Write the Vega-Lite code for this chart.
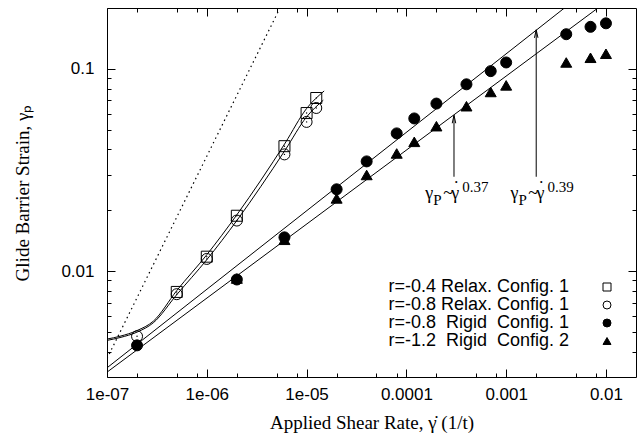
{
  "$schema": "https://vega.github.io/schema/vega-lite/v6.json",
  "width": 529,
  "height": 369,
  "autosize": {"type": "none"},
  "padding": {"left": 107, "top": 8, "right": 5, "bottom": 62},
  "background": "white",
  "config": {
    "view": {"stroke": "black", "strokeWidth": 1},
    "axis": {"domain": false, "grid": false, "tickColor": "black", "tickWidth": 1, "labelColor": "black", "titleColor": "black", "labelFont": "Liberation Sans", "labelFontSize": 17, "titleFont": "Liberation Serif", "titleFontSize": 19, "titleFontWeight": "normal", "labelFlush": false, "labelOverlap": false},
    "legend": {"title": null, "orient": "none", "legendX": 491, "legendY": 270, "labelAlign": "right", "labelOffset": -47, "labelFont": "Liberation Sans", "labelFontSize": 18, "labelColor": "black", "symbolSize": 64, "symbolStrokeWidth": 1, "rowPadding": 0, "labelLimit": 400}
  },
  "datasets": {
    "pts": [
      {"series": "r=-0.4 Relax. Config. 1", "x": 5e-7, "y": 0.0079},
      {"series": "r=-0.4 Relax. Config. 1", "x": 1e-6, "y": 0.0118},
      {"series": "r=-0.4 Relax. Config. 1", "x": 2e-6, "y": 0.0188},
      {"series": "r=-0.4 Relax. Config. 1", "x": 6e-6, "y": 0.0415},
      {"series": "r=-0.4 Relax. Config. 1", "x": 1e-5, "y": 0.0605},
      {"series": "r=-0.4 Relax. Config. 1", "x": 1.25e-5, "y": 0.0718},
      {"series": "r=-0.8 Relax. Config. 1", "x": 2e-7, "y": 0.00477},
      {"series": "r=-0.8 Relax. Config. 1", "x": 5e-7, "y": 0.0077},
      {"series": "r=-0.8 Relax. Config. 1", "x": 1e-6, "y": 0.0115},
      {"series": "r=-0.8 Relax. Config. 1", "x": 2e-6, "y": 0.0178},
      {"series": "r=-0.8 Relax. Config. 1", "x": 6e-6, "y": 0.0378},
      {"series": "r=-0.8 Relax. Config. 1", "x": 1e-5, "y": 0.0547},
      {"series": "r=-0.8 Relax. Config. 1", "x": 1.25e-5, "y": 0.0641},
      {"series": "r=-0.8 \u00a0Rigid \u00a0Config. 1", "x": 2e-7, "y": 0.0043},
      {"series": "r=-0.8 \u00a0Rigid \u00a0Config. 1", "x": 2e-6, "y": 0.0091},
      {"series": "r=-0.8 \u00a0Rigid \u00a0Config. 1", "x": 6e-6, "y": 0.0147},
      {"series": "r=-0.8 \u00a0Rigid \u00a0Config. 1", "x": 2e-5, "y": 0.0254},
      {"series": "r=-0.8 \u00a0Rigid \u00a0Config. 1", "x": 4e-5, "y": 0.0349},
      {"series": "r=-0.8 \u00a0Rigid \u00a0Config. 1", "x": 8e-5, "y": 0.048},
      {"series": "r=-0.8 \u00a0Rigid \u00a0Config. 1", "x": 1.2e-4, "y": 0.0569},
      {"series": "r=-0.8 \u00a0Rigid \u00a0Config. 1", "x": 2e-4, "y": 0.0674},
      {"series": "r=-0.8 \u00a0Rigid \u00a0Config. 1", "x": 4e-4, "y": 0.0839},
      {"series": "r=-0.8 \u00a0Rigid \u00a0Config. 1", "x": 7e-4, "y": 0.0975},
      {"series": "r=-0.8 \u00a0Rigid \u00a0Config. 1", "x": 1e-3, "y": 0.1076},
      {"series": "r=-0.8 \u00a0Rigid \u00a0Config. 1", "x": 4e-3, "y": 0.1484},
      {"series": "r=-0.8 \u00a0Rigid \u00a0Config. 1", "x": 7e-3, "y": 0.1614},
      {"series": "r=-0.8 \u00a0Rigid \u00a0Config. 1", "x": 1e-2, "y": 0.168},
      {"series": "r=-1.2 \u00a0Rigid \u00a0Config. 2", "x": 2e-6, "y": 0.0092},
      {"series": "r=-1.2 \u00a0Rigid \u00a0Config. 2", "x": 6e-6, "y": 0.0143},
      {"series": "r=-1.2 \u00a0Rigid \u00a0Config. 2", "x": 2e-5, "y": 0.0229},
      {"series": "r=-1.2 \u00a0Rigid \u00a0Config. 2", "x": 4e-5, "y": 0.0299},
      {"series": "r=-1.2 \u00a0Rigid \u00a0Config. 2", "x": 8e-5, "y": 0.0382},
      {"series": "r=-1.2 \u00a0Rigid \u00a0Config. 2", "x": 1.2e-4, "y": 0.0436},
      {"series": "r=-1.2 \u00a0Rigid \u00a0Config. 2", "x": 2e-4, "y": 0.0521},
      {"series": "r=-1.2 \u00a0Rigid \u00a0Config. 2", "x": 4e-4, "y": 0.0654},
      {"series": "r=-1.2 \u00a0Rigid \u00a0Config. 2", "x": 7e-4, "y": 0.0769},
      {"series": "r=-1.2 \u00a0Rigid \u00a0Config. 2", "x": 1e-3, "y": 0.0829},
      {"series": "r=-1.2 \u00a0Rigid \u00a0Config. 2", "x": 4e-3, "y": 0.1076},
      {"series": "r=-1.2 \u00a0Rigid \u00a0Config. 2", "x": 7e-3, "y": 0.1135},
      {"series": "r=-1.2 \u00a0Rigid \u00a0Config. 2", "x": 1e-2, "y": 0.1188}
    ],
    "curves": [
      {"curve": "sq", "x": 1e-7, "y": 0.00462},
      {"curve": "sq", "x": 1.35e-7, "y": 0.00477},
      {"curve": "sq", "x": 2e-7, "y": 0.00509},
      {"curve": "sq", "x": 2.91e-7, "y": 0.00566},
      {"curve": "sq", "x": 5e-7, "y": 0.00802},
      {"curve": "sq", "x": 1e-6, "y": 0.01206},
      {"curve": "sq", "x": 2e-6, "y": 0.019},
      {"curve": "sq", "x": 6.1e-6, "y": 0.043},
      {"curve": "sq", "x": 1e-5, "y": 0.0637},
      {"curve": "sq", "x": 1.5e-5, "y": 0.0778},
      {"curve": "ci", "x": 1e-7, "y": 0.00455},
      {"curve": "ci", "x": 1.35e-7, "y": 0.0047},
      {"curve": "ci", "x": 2e-7, "y": 0.005},
      {"curve": "ci", "x": 2.91e-7, "y": 0.00556},
      {"curve": "ci", "x": 5e-7, "y": 0.00766},
      {"curve": "ci", "x": 1e-6, "y": 0.0114},
      {"curve": "ci", "x": 2e-6, "y": 0.0178},
      {"curve": "ci", "x": 6.1e-6, "y": 0.0397},
      {"curve": "ci", "x": 1e-5, "y": 0.0579},
      {"curve": "ci", "x": 1.47e-5, "y": 0.07}
    ],
    "fits": [
      {"line": "p39", "x": 1e-7, "y": 0.00333},
      {"line": "p39", "x": 4.5e-3, "y": 0.2128},
      {"line": "p37", "x": 1e-7, "y": 0.00317},
      {"line": "p37", "x": 1e-2, "y": 0.214}
    ],
    "guide": [
      {"x": 1e-7, "y": 0.0037},
      {"x": 6e-6, "y": 0.222}
    ],
    "arrows": [
      {"x": 3e-4, "y": 0.0293, "y2": 0.059},
      {"x": 2e-3, "y": 0.0293, "y2": 0.156}
    ],
    "annMain": [
      {"x": 1.549e-4, "y": 0.02275, "t": "γ"},
      {"x": 2.344e-4, "y": 0.02275, "t": "~"},
      {"x": 2.82e-4, "y": 0.02275, "t": "γ"},
      {"x": 1.103e-3, "y": 0.02275, "t": "γ"},
      {"x": 1.669e-3, "y": 0.02275, "t": "~"},
      {"x": 2.008e-3, "y": 0.02275, "t": "γ"}
    ],
    "annSmall": [
      {"x": 1.862e-4, "y": 0.02128, "t": "P"},
      {"x": 3.64e-4, "y": 0.0247, "t": "0.37"},
      {"x": 1.326e-3, "y": 0.02128, "t": "P"},
      {"x": 2.59e-3, "y": 0.0247, "t": "0.39"}
    ],
    "annDot": [
      {"x": 3.16e-4, "y": 0.0241, "t": "˙"},
      {"x": 2.25e-3, "y": 0.0241, "t": "˙"}
    ]
  },
  "resolve": {"axis": {"x": "independent", "y": "independent"}},
  "layer": [
    {
      "data": {"name": "guide"},
      "mark": {"type": "line", "stroke": "black", "strokeWidth": 1.2, "strokeDash": [1.5, 3.5], "clip": true},
      "encoding": {
        "x": {"field": "x", "type": "quantitative", "scale": {"type": "log", "domain": [1e-7, 0.02], "nice": false},
          "axis": {"orient": "top", "values": [2e-7, 5e-7, 8e-7, 2e-6, 5e-6, 8e-6, 2e-5, 5e-5, 8e-5, 2e-4, 5e-4, 8e-4, 2e-3, 5e-3, 8e-3], "labels": false, "tickSize": -4, "title": null}},
        "y": {"field": "y", "type": "quantitative", "scale": {"type": "log", "domain": [0.003, 0.2], "nice": false},
          "axis": {"orient": "right", "values": [0.004, 0.005, 0.006, 0.007, 0.008, 0.009, 0.02, 0.03, 0.04, 0.05, 0.06, 0.07, 0.08, 0.09], "labels": false, "tickSize": -4, "title": null}}
      }
    },
    {
      "data": {"name": "curves"},
      "mark": {"type": "line", "stroke": "black", "strokeWidth": 1, "interpolate": "monotone", "clip": true},
      "encoding": {
        "x": {"field": "x", "type": "quantitative", "scale": {"type": "log", "domain": [1e-7, 0.02], "nice": false},
          "axis": {"orient": "bottom", "values": [2e-7, 5e-7, 8e-7, 2e-6, 5e-6, 8e-6, 2e-5, 5e-5, 8e-5, 2e-4, 5e-4, 8e-4, 2e-3, 5e-3, 8e-3], "labels": false, "tickSize": -4, "title": null}},
        "y": {"field": "y", "type": "quantitative", "scale": {"type": "log", "domain": [0.003, 0.2], "nice": false},
          "axis": {"orient": "left", "values": [0.004, 0.005, 0.006, 0.007, 0.008, 0.009, 0.02, 0.03, 0.04, 0.05, 0.06, 0.07, 0.08, 0.09], "labels": false, "tickSize": -4, "title": null}},
        "detail": {"field": "curve", "type": "nominal"}
      }
    },
    {
      "data": {"name": "fits"},
      "mark": {"type": "line", "stroke": "black", "strokeWidth": 1, "clip": true},
      "encoding": {
        "x": {"field": "x", "type": "quantitative", "scale": {"type": "log", "domain": [1e-7, 0.02], "nice": false},
          "axis": {"orient": "top", "values": [1e-7, 1e-6, 1e-5, 1e-4, 1e-3, 1e-2], "labels": false, "tickSize": -8, "title": null}},
        "y": {"field": "y", "type": "quantitative", "scale": {"type": "log", "domain": [0.003, 0.2], "nice": false},
          "axis": {"orient": "right", "values": [0.01, 0.1], "labels": false, "tickSize": -8, "title": null}},
        "detail": {"field": "line", "type": "nominal"}
      }
    },
    {
      "data": {"name": "arrows"},
      "mark": {"type": "rule", "stroke": "black", "strokeWidth": 1},
      "encoding": {
        "x": {"field": "x", "type": "quantitative", "scale": {"type": "log", "domain": [1e-7, 0.02], "nice": false}, "axis": null},
        "y": {"field": "y", "type": "quantitative", "scale": {"type": "log", "domain": [0.003, 0.2], "nice": false}, "axis": null},
        "y2": {"field": "y2"}
      }
    },
    {
      "data": {"name": "arrows"},
      "mark": {"type": "point", "shape": "M-0.35,1.6L0,0L0.35,1.6", "size": 100, "filled": false, "stroke": "black", "strokeWidth": 1, "opacity": 1},
      "encoding": {
        "x": {"field": "x", "type": "quantitative", "scale": {"type": "log", "domain": [1e-7, 0.02], "nice": false}, "axis": null},
        "y": {"field": "y2", "type": "quantitative", "scale": {"type": "log", "domain": [0.003, 0.2], "nice": false}, "axis": null}
      }
    },
    {
      "data": {"name": "pts"},
      "mark": {"type": "point", "size": 121, "strokeWidth": 1, "opacity": 1, "fillOpacity": 1, "strokeOpacity": 1, "clip": true},
      "encoding": {
        "x": {"field": "x", "type": "quantitative", "scale": {"type": "log", "domain": [1e-7, 0.02], "nice": false},
          "axis": {"orient": "bottom", "values": [1e-7, 1e-6, 1e-5, 1e-4, 1e-3, 1e-2], "tickSize": -8, "labelPadding": 17,
            "labelExpr": "datum.value < 5e-7 ? '1e-07' : datum.value < 5e-6 ? '1e-06' : datum.value < 5e-5 ? '1e-05' : datum.value < 5e-4 ? '0.0001' : datum.value < 5e-3 ? '0.001' : '0.01'",
            "title": "Applied Shear Rate, γ̇ (1/t)", "titlePadding": 11}},
        "y": {"field": "y", "type": "quantitative", "scale": {"type": "log", "domain": [0.003, 0.2], "nice": false},
          "axis": {"orient": "left", "values": [0.01, 0.1], "tickSize": -8, "labelPadding": 21,
            "labelExpr": "datum.value < 0.05 ? '0.01' : '0.1'",
            "title": "Glide Barrier Strain, γₚ", "titlePadding": 28}},
        "shape": {"field": "series", "type": "nominal",
          "scale": {"domain": ["r=-0.4 Relax. Config. 1", "r=-0.8 Relax. Config. 1", "r=-0.8 \u00a0Rigid \u00a0Config. 1", "r=-1.2 \u00a0Rigid \u00a0Config. 2"], "range": ["square", "circle", "circle", "triangle-up"]}},
        "fill": {"field": "series", "type": "nominal",
          "scale": {"domain": ["r=-0.4 Relax. Config. 1", "r=-0.8 Relax. Config. 1", "r=-0.8 \u00a0Rigid \u00a0Config. 1", "r=-1.2 \u00a0Rigid \u00a0Config. 2"], "range": ["transparent", "transparent", "black", "black"]}},
        "stroke": {"field": "series", "type": "nominal",
          "scale": {"domain": ["r=-0.4 Relax. Config. 1", "r=-0.8 Relax. Config. 1", "r=-0.8 \u00a0Rigid \u00a0Config. 1", "r=-1.2 \u00a0Rigid \u00a0Config. 2"], "range": ["black", "black", "black", "black"]}}
      }
    },
    {
      "data": {"name": "pts"},
      "transform": [{"filter": {"field": "series", "oneOf": ["r=-0.4 Relax. Config. 1", "r=-0.8 Relax. Config. 1"]}}],
      "mark": {"type": "point", "shape": "circle", "size": 2, "filled": true, "fill": "black", "opacity": 1},
      "encoding": {
        "x": {"field": "x", "type": "quantitative", "scale": {"type": "log", "domain": [1e-7, 0.02], "nice": false}, "axis": null},
        "y": {"field": "y", "type": "quantitative", "scale": {"type": "log", "domain": [0.003, 0.2], "nice": false}, "axis": null}
      }
    },
    {
      "data": {"name": "annMain"},
      "mark": {"type": "text", "align": "left", "baseline": "alphabetic", "font": "Liberation Serif", "fontSize": 18, "fill": "black"},
      "encoding": {
        "x": {"field": "x", "type": "quantitative", "scale": {"type": "log", "domain": [1e-7, 0.02], "nice": false}, "axis": null},
        "y": {"field": "y", "type": "quantitative", "scale": {"type": "log", "domain": [0.003, 0.2], "nice": false}, "axis": null},
        "text": {"field": "t", "type": "nominal"}
      }
    },
    {
      "data": {"name": "annDot"},
      "mark": {"type": "text", "align": "center", "baseline": "alphabetic", "font": "Liberation Serif", "fontSize": 18, "fill": "black"},
      "encoding": {
        "x": {"field": "x", "type": "quantitative", "scale": {"type": "log", "domain": [1e-7, 0.02], "nice": false}, "axis": null},
        "y": {"field": "y", "type": "quantitative", "scale": {"type": "log", "domain": [0.003, 0.2], "nice": false}, "axis": null},
        "text": {"field": "t", "type": "nominal"}
      }
    },
    {
      "data": {"name": "annSmall"},
      "mark": {"type": "text", "align": "left", "baseline": "alphabetic", "font": "Liberation Serif", "fontSize": 15, "fill": "black"},
      "encoding": {
        "x": {"field": "x", "type": "quantitative", "scale": {"type": "log", "domain": [1e-7, 0.02], "nice": false}, "axis": null},
        "y": {"field": "y", "type": "quantitative", "scale": {"type": "log", "domain": [0.003, 0.2], "nice": false}, "axis": null},
        "text": {"field": "t", "type": "nominal"}
      }
    }
  ]
}
